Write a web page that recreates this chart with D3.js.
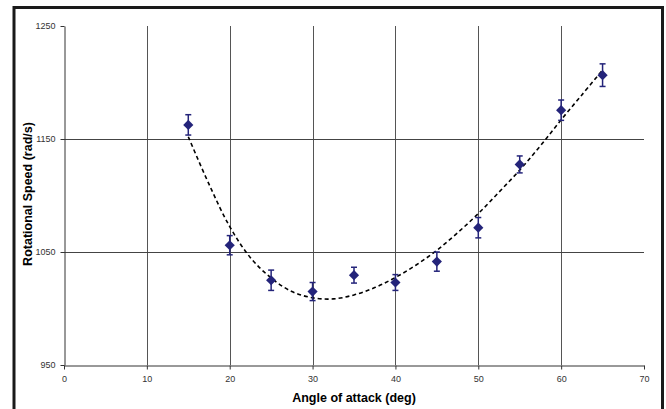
<!DOCTYPE html>
<html>
<head>
<meta charset="utf-8">
<script src="https://cdn.jsdelivr.net/npm/d3@7"></script>
<style>
    body { margin: 0; background: #fff; }
    svg { display: block; font-family: "Liberation Sans", Arial, sans-serif; }
    .tick text { fill: #333; font-size: 9px; }
</style>
</head>
<body>
<svg id="SVG_CONTAINER" width="666" height="409"></svg>
<script>
// measured points (angle of attack vs rotational speed)
const angles = [15, 20, 25, 30, 35, 40, 45, 50, 55, 60, 65];
const speeds = [1162.5, 1056, 1025, 1015, 1029.5, 1023, 1041.5, 1071.5, 1127.5, 1175.5, 1206.5];
const errors = [9, 8.5, 9, 8, 7, 7, 8.5, 9, 7.5, 9, 10];

// dashed trend line
const trendAngles = [15, 17.5, 20, 22.5, 25, 27.5, 30, 32.5, 35, 37.5, 40, 42.5, 45, 47.5, 50, 52.5, 55, 57.5, 60, 62.5, 65];
const trendSpeeds = [1152, 1110, 1072.5, 1045, 1027, 1015, 1009.5, 1008.5, 1012, 1018.5, 1027.5, 1038.5, 1051.5, 1067, 1084, 1103, 1122.5, 1144, 1167, 1189, 1211];

const xTicks = [0, 10, 20, 30, 40, 50, 60, 70];
const yTicks = [950, 1050, 1150, 1250];

const MARGIN = {
    "LEFT": 64,
    "RIGHT": 22,
    "TOP": 26,
    "BOTTOM": 44,
};
const width = 666,
    height = 409;

let svg = d3.select("#SVG_CONTAINER");

//** SCALES *****************************************
let xScale = d3.scaleLinear()
    .domain([0, 70])
    .range([MARGIN.LEFT, width - MARGIN.RIGHT]);

let yScale = d3.scaleLinear()
    .domain([950, 1250])
    .range([height - MARGIN.BOTTOM, MARGIN.TOP]);

//outer frame
svg.append("path")
    .attr("d", "M14,409 L14,7.5 L662.5,7.5 L662.5,409")
    .attr("fill", "none")
    .attr("stroke", "#1a1a1a")
    .attr("stroke-width", 3);

//** GRID *****************************************
let grid = svg.append("g").attr("class", "grid");
grid.selectAll(".vgrid")
    .data(xTicks.filter(d => d > 0 && d < 70))
    .enter()
    .append("line")
    .attr("x1", d => Math.round(xScale(d)) + 0.5)
    .attr("x2", d => Math.round(xScale(d)) + 0.5)
    .attr("y1", yScale(1250))
    .attr("y2", yScale(950))
    .attr("stroke", "#555")
    .attr("stroke-width", 1);

grid.selectAll(".hgrid")
    .data(yTicks.filter(d => d > 950 && d < 1250))
    .enter()
    .append("line")
    .attr("x1", xScale(0))
    .attr("x2", xScale(70))
    .attr("y1", d => Math.round(yScale(d)) + 0.5)
    .attr("y2", d => Math.round(yScale(d)) + 0.5)
    .attr("stroke", "#444")
    .attr("stroke-width", 1);

//** AXES *****************************************
let xAxis = d3.axisBottom(xScale)
    .tickValues(xTicks)
    .tickSize(4)
    .tickSizeOuter(0)
    .tickPadding(6)
    .tickFormat(d3.format("d"));

svg.append("g")
    .attr("class", "x_axis")
    .attr("transform", "translate(0," + (Math.round(yScale(950)) + 0.5) + ")")
    .call(xAxis);

let yAxis = d3.axisLeft(yScale)
    .tickValues(yTicks)
    .tickSize(4)
    .tickSizeOuter(0)
    .tickPadding(5)
    .tickFormat(d3.format("d"));

svg.append("g")
    .attr("class", "y_axis")
    .attr("transform", "translate(" + (Math.round(xScale(0)) + 0.5) + ",0)")
    .call(yAxis);

svg.selectAll(".domain").attr("stroke", "#333");
svg.selectAll(".tick line").attr("stroke", "#333");

//axis titles
svg.append("text")
    .attr("x", 354)
    .attr("y", 402)
    .attr("text-anchor", "middle")
    .attr("font-size", "12.5px")
    .attr("font-weight", "bold")
    .text("Angle of attack (deg)");

svg.append("text")
    .attr("transform", "translate(32,194) rotate(-90)")
    .attr("text-anchor", "middle")
    .attr("font-size", "12.5px")
    .attr("font-weight", "bold")
    .text("Rotational Speed (rad/s)");

//** TREND LINE *****************************************
let trend = trendAngles.map((a, i) => [a, trendSpeeds[i]]);
svg.append("path")
    .datum(trend)
    .attr("d", d3.line()
        .x(d => xScale(d[0]))
        .y(d => yScale(d[1]))
        .curve(d3.curveCatmullRom))
    .attr("fill", "none")
    .attr("stroke", "#000")
    .attr("stroke-width", 1.6)
    .attr("stroke-dasharray", "4,3");

//** ERROR BARS + MARKERS *****************************************
const navy = "#24247a";
let pts = angles.map((a, i) => ({ x: a, y: speeds[i], e: errors[i] }));

let bars = svg.append("g").attr("class", "errorbars")
    .selectAll("g")
    .data(pts)
    .enter()
    .append("g");

bars.append("line")
    .attr("x1", d => xScale(d.x))
    .attr("x2", d => xScale(d.x))
    .attr("y1", d => yScale(d.y + d.e))
    .attr("y2", d => yScale(d.y - d.e))
    .attr("stroke", navy)
    .attr("stroke-width", 1.5);

bars.append("line")
    .attr("x1", d => xScale(d.x) - 3)
    .attr("x2", d => xScale(d.x) + 3)
    .attr("y1", d => yScale(d.y + d.e))
    .attr("y2", d => yScale(d.y + d.e))
    .attr("stroke", navy)
    .attr("stroke-width", 1.5);

bars.append("line")
    .attr("x1", d => xScale(d.x) - 3)
    .attr("x2", d => xScale(d.x) + 3)
    .attr("y1", d => yScale(d.y - d.e))
    .attr("y2", d => yScale(d.y - d.e))
    .attr("stroke", navy)
    .attr("stroke-width", 1.5);

svg.append("g").attr("class", "markers")
    .selectAll("path")
    .data(pts)
    .enter()
    .append("path")
    .attr("d", d3.symbol().type(d3.symbolDiamond2).size(66))
    .attr("transform", d => "translate(" + xScale(d.x) + "," + yScale(d.y) + ")")
    .attr("fill", navy);
</script>
</body>
</html>
